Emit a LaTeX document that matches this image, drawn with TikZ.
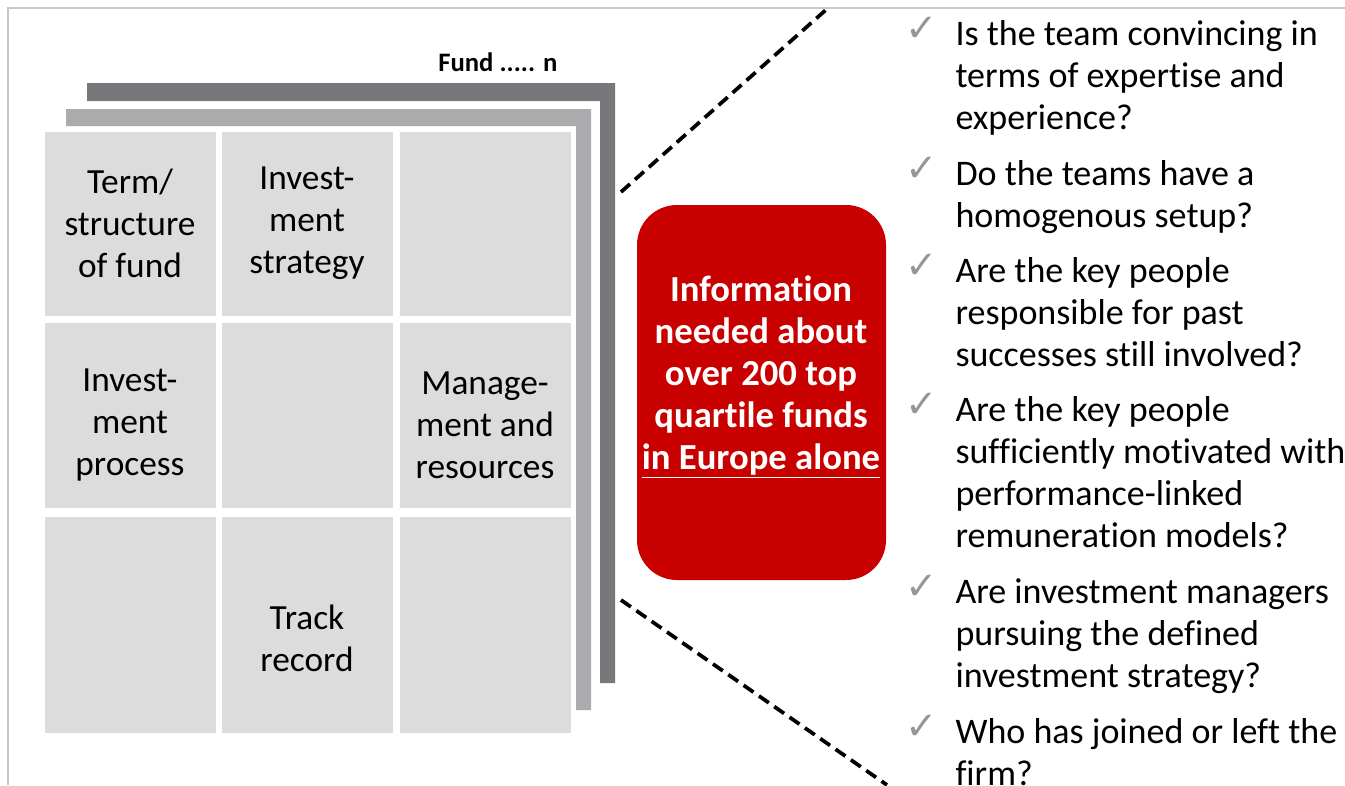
\documentclass[tikz,border=0pt]{standalone}
\usepackage{fontspec}
\setmainfont{Carlito}[Ligatures=CommonOff]
\newfontfamily\symfont{DejaVu Sans}
\usetikzlibrary{positioning}

\definecolor{cellgrey}{RGB}{220,220,220}
\definecolor{pagegrey}{RGB}{171,171,173}
\definecolor{backgrey}{RGB}{119,120,123}
\definecolor{boxred}{RGB}{200,0,0}
\definecolor{framegrey}{RGB}{200,200,200}
\definecolor{tickgrey}{RGB}{150,150,150}

\tikzset{every picture/.style={line width=0.75pt},
  cell/.style={fill=cellgrey, inner sep=0pt, minimum width=128.25pt},
  celltext/.style={align=center, inner sep=0pt, font=\fontsize{26.5}{31.5}\selectfont},
  question/.style={anchor=base west, align=left, inner sep=0pt, font=\fontsize{27}{31.5}\selectfont},
  tick/.style={anchor=base west, inner sep=0pt, text=tickgrey, font=\symfont\fontsize{29}{29}\selectfont},
  zoomline/.style={line width=2.8pt, dash pattern=on 9pt off 5pt}
}

\begin{document}
\begin{tikzpicture}[x=0.75pt,y=0.75pt,yscale=-1,xscale=1]
\useasboundingbox (0,0) rectangle (1345,785);
\clip (0,0) rectangle (1345,785);

%Straight Lines: frame
\draw [color=framegrey, line width=1.5pt] (8,785) -- (8,8) -- (1345,8) ;

%Shape: back page (Fund ..... n)
\fill [backgrey] (87,83) -- (615,83) -- (615,683) -- (600,683) -- (600,101) -- (87,101) -- cycle ;
%Shape: middle page
\fill [pagegrey] (66,109) -- (591,109) -- (591,710) -- (576,710) -- (576,126) -- (66,126) -- cycle ;

%Shape: Rectangle grid, row 1
\node [cell, minimum height=138pt] (c11) at (130,224) {};
\node [cell, minimum height=138pt] (c12) at (307,224) {};
\node [cell, minimum height=138pt] (c13) at (485,224) {};
%Shape: Rectangle grid, row 2
\node [cell, minimum height=138.75pt] (c21) at (130,415.5) {};
\node [cell, minimum height=138.75pt] (c22) at (307,415.5) {};
\node [cell, minimum height=138.75pt] (c23) at (485,415.5) {};
%Shape: Rectangle grid, row 3
\node [cell, minimum height=162pt] (c31) at (130,625) {};
\node [cell, minimum height=162pt] (c32) at (307,625) {};
\node [cell, minimum height=162pt] (c33) at (485,625) {};

% Text Node
\node [celltext] (t11) at (130,223) {Term/\\structure\\of fund};
% Text Node
\node [celltext] (t12) at (307,223) {Invest-\\ment\\strategy};
% Text Node
\node [celltext] (t21) at (130,425) {Invest-\\ment\\process};
% Text Node
\node [celltext] (t23) at (485,425) {Manage-\\ment and\\resources};
% Text Node
\node [celltext] (t32) at (307,638) {Track\\record};
% Text Node
\node [anchor=base east, inner sep=0pt, font=\bfseries\fontsize{20}{24}\selectfont] (fundn) at (558,71) {Fund ..... n};

%Rounded Rect
\node [fill=boxred, rounded corners=30pt, minimum width=186.75pt, minimum height=281.25pt, inner sep=0pt] (info) at (761.5,392.5) {};
% Text Node
\node [align=center, inner sep=0pt, text=white, font=\bfseries\fontsize{27.5}{31.5}\selectfont] (infotext) at (761,377) {Information\\needed about\\over 200 top\\quartile funds\\\underline{in Europe alone}};

%Straight Lines: dashed zoom
\coordinate (uppertop) at (828,8);
\coordinate (upperbot) at (621,192);
\coordinate (lowertop) at (621,600);
\coordinate (lowerbot) at (887,785);
\draw [zoomline] (upperbot) -- (uppertop) ;
\draw [zoomline] (lowertop) -- (lowerbot) ;

% Text Node: questions (base = last line)
\node [tick] (k1) at (905,41) {✓};
\node [question] (q1) at (955,129) {Is the team convincing in\\terms of expertise and\\experience?};
\node [tick] (k2) at (905,181) {✓};
\node [question] (q2) at (955,227) {Do the teams have a\\homogenous setup?};
\node [tick] (k3) at (905,278) {✓};
\node [question] (q3) at (955,366) {Are the key people\\responsible for past\\successes still involved?};
\node [tick] (k4) at (905,417) {✓};
\node [question] (q4) at (955,547) {Are the key people\\sufficiently motivated with\\performance-linked\\remuneration models?};
\node [tick] (k5) at (905,599) {✓};
\node [question] (q5) at (955,687) {Are investment managers\\pursuing the defined\\investment strategy?};
\node [tick] (k6) at (905,739) {✓};
\node [question] (q6) at (955,785) {Who has joined or left the\\firm?};

\end{tikzpicture}
\end{document}
